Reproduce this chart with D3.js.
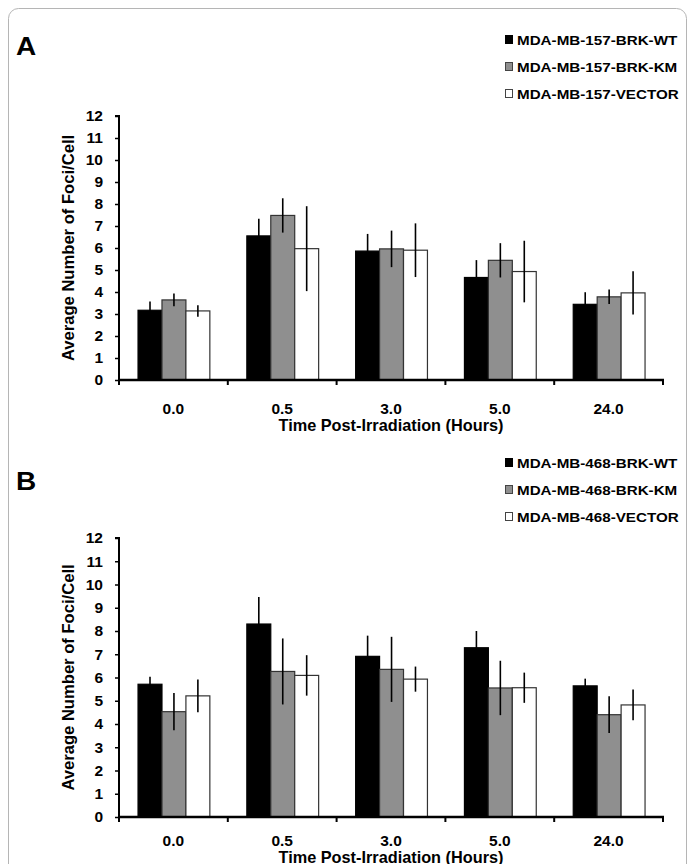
<!DOCTYPE html>
<html>
<head>
<meta charset="utf-8">
<script src="https://cdn.jsdelivr.net/npm/d3@7"></script>
<style>
  body { margin: 0; background: #fff; }
  text { font-family: "Liberation Sans", Arial, sans-serif; font-weight: bold; }
</style>
</head>
<body>
<div class="chart"></div>
<script>
const times = ['0.0', '0.5', '3.0', '5.0', '24.0'];
const yTicks = d3.range(0, 13);

const seriesA = ['MDA-MB-157-BRK-WT', 'MDA-MB-157-BRK-KM', 'MDA-MB-157-VECTOR'];
const wtA = [3.17, 6.55, 5.86, 4.66, 3.44];
const kmA = [3.64, 7.48, 5.96, 5.44, 3.78];
const vecA = [3.14, 5.97, 5.90, 4.93, 3.96];
const wtErrA = [0.4, 0.78, 0.78, 0.79, 0.55];
const kmErrA = [0.29, 0.78, 0.83, 0.78, 0.33];
const vecErrA = [0.26, 1.93, 1.22, 1.40, 0.98];

const seriesB = ['MDA-MB-468-BRK-WT', 'MDA-MB-468-BRK-KM', 'MDA-MB-468-VECTOR'];
const wtB = [5.71, 8.30, 6.91, 7.28, 5.64];
const kmB = [4.53, 6.26, 6.35, 5.55, 4.40];
const vecB = [5.21, 6.09, 5.93, 5.56, 4.82];
const wtErrB = [0.32, 1.16, 0.89, 0.72, 0.31];
const kmErrB = [0.80, 1.42, 1.40, 1.17, 0.79];
const vecErrB = [0.70, 0.87, 0.54, 0.65, 0.66];

const fills = ['#000000', '#8f8f8f', '#ffffff'];

const W = 691, H = 864;
const svg = d3.select('.chart').append('svg')
    .attr('width', W).attr('height', H);

// outer frame
svg.append('rect')
    .attr('x', 8.5).attr('y', 8.5)
    .attr('width', 678).attr('height', 900)
    .attr('rx', 10)
    .attr('fill', 'none')
    .attr('stroke', '#b5b5b5')
    .attr('stroke-width', 1);

function drawPanel(letter, names, vals, errs, top, y0, y12, legendY, labY, titleY) {
    const g = svg.append('g');

    g.append('text')
        .attr('transform', `translate(16,${top}) scale(1.12,1)`)
        .attr('font-size', 25).text(letter);

    // legend
    names.forEach((n, i) => {
        const ly = legendY + i * 27;
        g.append('rect')
            .attr('x', 505.5).attr('y', ly - 9.5)
            .attr('width', 7).attr('height', 8)
            .attr('fill', fills[i])
            .attr('stroke', i === 0 ? '#000' : '#444');
        g.append('text')
            .attr('transform', `translate(517,${ly}) scale(1.17,1)`)
            .attr('font-size', 13).text(n);
    });

    const x0 = d3.scaleBand().domain(times).range([119, 663]);
    const x1 = d3.scaleBand().domain([0, 1, 2])
        .range([x0.bandwidth() * 0.175, x0.bandwidth() * 0.835]);
    const y = d3.scaleLinear().domain([0, 12]).range([y0, y12]);

    const rows = [];
    times.forEach((t, i) => {
        vals.forEach((v, s) => rows.push({ t: t, s: s, v: v[i], e: errs[s][i] }));
    });

    g.selectAll('rect.bar')
        .data(rows)
        .enter()
        .append('rect')
        .attr('class', 'bar')
        .attr('x', d => x0(d.t) + x1(d.s))
        .attr('y', d => y(d.v))
        .attr('width', x1.bandwidth())
        .attr('height', d => y(0) - y(d.v))
        .attr('fill', d => fills[d.s])
        .attr('stroke', d => d.s === 0 ? '#000' : '#333')
        .attr('stroke-width', 1.2);

    g.selectAll('line.err')
        .data(rows)
        .enter()
        .append('line')
        .attr('x1', d => x0(d.t) + x1(d.s) + x1.bandwidth() / 2)
        .attr('x2', d => x0(d.t) + x1(d.s) + x1.bandwidth() / 2)
        .attr('y1', d => y(d.v + d.e))
        .attr('y2', d => y(d.v - d.e))
        .attr('stroke', '#000')
        .attr('stroke-width', 1.6);

    // y axis
    const yAxis = g.append('g')
        .attr('transform', 'translate(119,0)')
        .call(d3.axisLeft(y).tickValues(yTicks).tickSize(4).tickPadding(12).tickFormat(d3.format('d')));
    yAxis.select('.domain').attr('stroke-width', 2).attr('d', `M-4,${y12}H0V${y0}`);
    yAxis.selectAll('.tick line').attr('stroke-width', 1.5);
    yAxis.selectAll('.tick text')
        .attr('font-size', 15.5)
        .attr('font-family', 'Liberation Sans')
        .attr('font-weight', 'bold')
        .attr('fill', '#000');

    // x axis
    const xAxis = g.append('g').attr('transform', `translate(0,${y0})`);
    xAxis.append('line')
        .attr('x1', 118).attr('x2', 664)
        .attr('stroke', '#000').attr('stroke-width', 2.5);
    xAxis.selectAll('line.tk')
        .data(times.map(t => x0(t)).concat([x0.range()[1]]))
        .enter()
        .append('line')
        .attr('x1', d => d).attr('x2', d => d)
        .attr('y1', 0).attr('y2', 5)
        .attr('stroke', '#000').attr('stroke-width', 2);
    xAxis.selectAll('text.lab')
        .data(times)
        .enter()
        .append('text')
        .attr('x', d => x0(d) + x0.bandwidth() / 2)
        .attr('y', labY)
        .attr('text-anchor', 'middle')
        .attr('font-size', 15.5)
        .text(d => d);
    xAxis.append('text')
        .attr('x', 391).attr('y', titleY)
        .attr('text-anchor', 'middle')
        .attr('font-size', 16.3)
        .text('Time Post-Irradiation (Hours)');

    g.append('text')
        .attr('transform', `translate(74,${(y0 + y12) / 2}) rotate(-90)`)
        .attr('text-anchor', 'middle')
        .attr('font-size', 16.6)
        .text('Average Number of Foci/Cell');
}

drawPanel('A', seriesA, [wtA, kmA, vecA], [wtErrA, kmErrA, vecErrA], 55, 380, 116, 45, 34, 51);
drawPanel('B', seriesB, [wtB, kmB, vecB], [wtErrB, kmErrB, vecErrB], 490, 817, 538, 468, 29, 46);
</script>
</body>
</html>
